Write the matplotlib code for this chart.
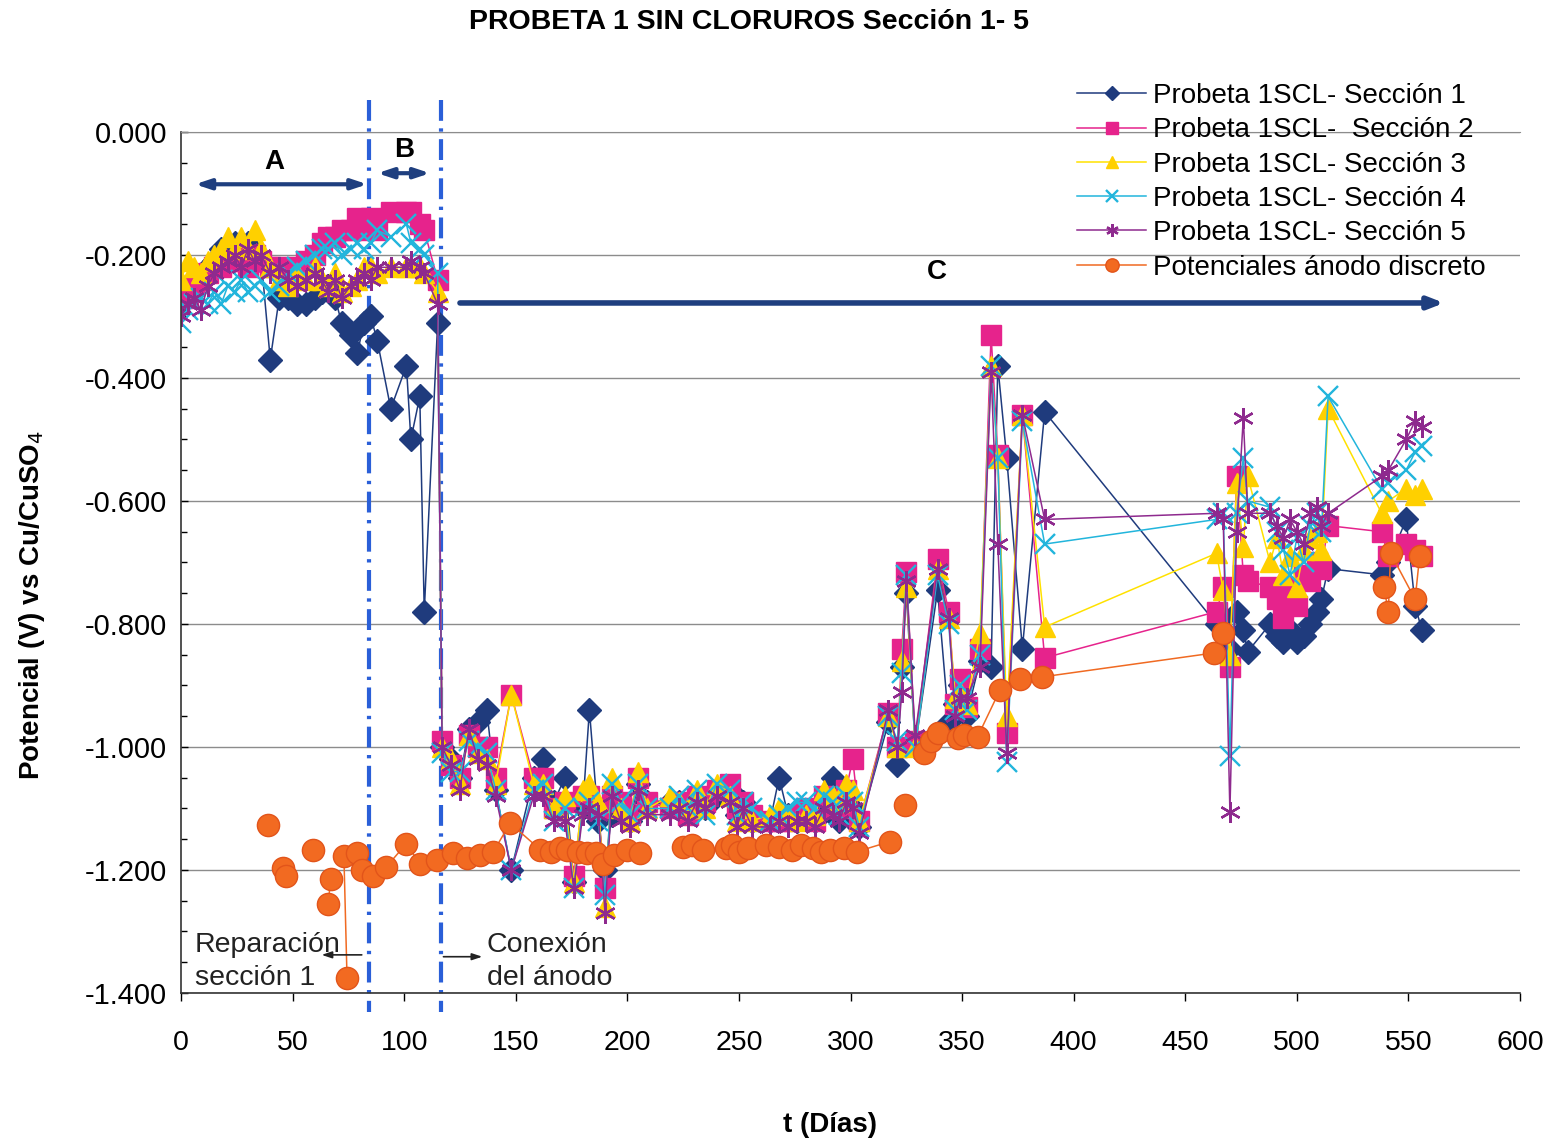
import numpy as np
import matplotlib
matplotlib.use("Agg")
import matplotlib.pyplot as plt
from matplotlib.ticker import MultipleLocator, FormatStrFormatter

plt.rcParams['font.family'] = ['Liberation Sans', 'DejaVu Sans']
plt.rcParams['axes.unicode_minus'] = False

nan = np.nan

# measurement days shared by the five sections
dias = [
    0, 3, 6, 9, 12, 15, 18, 21, 24, 27, 30, 33, 36, 40, 44, 48, 52, 56, 60, 63, 66, 69, 72, 76, 79, 82,
    85, 88, 94, 101, 103, 107, 109, 115,
    117, 121, 125, 129, 133, 137, 141, 148, 158, 162, 167, 172, 176, 180, 183, 187, 190, 193, 197, 201, 205, 209,
    219, 223, 227, 231, 235, 240, 246, 249, 252, 256, 264, 268, 272, 276, 280, 284, 288, 292, 295, 298, 301, 304,
    317, 321, 323, 325, 329, 339, 344, 347, 349, 352, 358, 363, 366, 370, 377, 387,
    464, 467, 470, 473, 476, 478,
    488, 491, 494, 497, 500, 503, 506, 509, 511, 514,
    538, 541, 549, 553, 556,
]

seccion1 = [
    -0.28, -0.26, -0.25, -0.24, -0.22, -0.21, -0.19, -0.20, -0.18, -0.19, -0.18, -0.20, -0.21, -0.37, -0.27, -0.27,
    -0.28, -0.28, -0.27, -0.26, -0.25, -0.27, -0.31, -0.33, -0.36, -0.31,
    -0.30, -0.34, -0.45, -0.38, -0.50, -0.43, -0.78, -0.31,
    -1.00, -1.02, -1.05, -0.97, -0.96, -0.94, -1.07, -1.20, -1.05, -1.02, -1.09, -1.05, -1.22, -1.10, -0.94, -1.12,
    -1.20, -1.11, -1.10, -1.12, -1.06, -1.09,
    -1.09, -1.09, -1.10, -1.08, -1.10, -1.08, -1.07, -1.11, -1.09, -1.12, -1.12, -1.05, -1.11, -1.12, -1.11, -1.12,
    -1.09, -1.05, -1.12, -1.08, -1.10, -1.13,
    -0.96, -1.03, -0.87, -0.75, -1.00, -0.745, -0.96, -0.93, -0.90, -0.95, -0.86, -0.87, -0.38, -0.53, -0.84, -0.455,
    -0.80, -0.79, -0.84, -0.78, -0.81, -0.845,
    -0.80, -0.82, -0.83, -0.81, -0.83, -0.82, -0.80, -0.78, -0.76, -0.71,
    -0.72, -0.70, -0.63, -0.77, -0.81,
]

seccion2 = [
    -0.27, -0.27, -0.25, -0.24, -0.23, -0.22, -0.22, -0.21, -0.21, -0.20, -0.22, -0.20, -0.21, -0.22, -0.22, -0.24,
    -0.22, -0.21, -0.20, -0.18, -0.17, -0.17, -0.16, -0.16, -0.14, -0.16,
    -0.14, -0.16, -0.13, -0.13, -0.13, -0.15, -0.16, -0.24,
    -0.99, -1.03, -1.05, -0.98, -1.00, -1.00, -1.05, -0.915, -1.05, -1.05, -1.10, -1.09, -1.21, -1.08, -1.08, -1.10,
    -1.23, -1.08, -1.09, -1.11, -1.05, -1.09,
    -1.10, -1.09, -1.11, -1.08, -1.09, -1.07, -1.06, -1.10, -1.09, -1.11, -1.12, -1.12, -1.12, -1.11, -1.10, -1.12,
    -1.08, -1.10, -1.10, -1.07, -1.02, -1.12,
    -0.945, -1.00, -0.84, -0.715, -0.99, -0.695, -0.78, -0.93, -0.89, -0.935, -0.84, -0.33, -0.525, -0.977, -0.46, -0.855,
    -0.78, -0.74, -0.87, -0.56, -0.72, -0.73,
    -0.74, -0.76, -0.79, -0.74, -0.77, -0.72, -0.73, -0.70, -0.71, -0.64,
    -0.65, -0.69, -0.67, -0.68, -0.69,
]

seccion3 = [
    -0.24, -0.21, -0.22, -0.23, -0.21, -0.20, -0.19, -0.17, -0.19, -0.17, -0.19, -0.16, -0.19, -0.22, -0.24, -0.25,
    -0.23, -0.24, -0.22, -0.24, -0.25, -0.23, -0.26, -0.25, -0.24, -0.22,
    -0.22, -0.23, -0.22, -0.22, -0.22, -0.22, -0.23, -0.26,
    -1.00, -1.02, -1.06, -0.98, -1.01, -1.02, -1.06, -0.915, -1.06, -1.06, -1.10, -1.08, -1.22, -1.07, -1.06, -1.09,
    -1.26, -1.05, -1.10, -1.12, -1.04, -1.10,
    -1.08, -1.09, -1.10, -1.07, -1.10, -1.06, -1.08, -1.12, -1.10, -1.12, -1.11, -1.10, -1.11, -1.12, -1.11, -1.11,
    -1.07, -1.08, -1.09, -1.06, -1.07, -1.12,
    -0.95, -1.00, -0.86, -0.74, -1.00, -0.71, -0.79, -0.92, -0.91, -0.93, -0.815, -0.38, -0.53, -0.95, -0.46, -0.805,
    -0.685, -0.745, -0.85, -0.57, -0.675, -0.56,
    -0.70, -0.66, -0.72, -0.69, -0.74, -0.68, -0.66, -0.65, -0.68, -0.45,
    -0.62, -0.60, -0.58, -0.59, -0.58,
]

seccion4 = [
    -0.31, -0.29, -0.28, -0.27, -0.28, -0.26, -0.28, -0.25, -0.26, -0.24, -0.26, -0.25, -0.24, -0.26, -0.25, -0.23,
    -0.22, -0.21, -0.20, -0.19, -0.19, -0.18, -0.20, -0.19, -0.18, -0.19,
    -0.18, -0.16, -0.17, -0.15, -0.18, -0.19, -0.20, -0.23,
    -1.01, -1.04, -1.04, -0.99, -1.00, -1.01, -1.07, -1.20, -1.07, -1.06, -1.12, -1.10, -1.23, -1.10, -1.09, -1.12,
    -1.24, -1.06, -1.09, -1.11, -1.06, -1.10,
    -1.10, -1.08, -1.10, -1.07, -1.11, -1.06, -1.07, -1.11, -1.09, -1.10, -1.12, -1.11, -1.10, -1.09, -1.09, -1.10,
    -1.08, -1.09, -1.11, -1.08, -1.09, -1.13,
    -0.95, -0.99, -0.88, -0.72, -1.00, -0.72, -0.80, -0.94, -0.90, -0.94, -0.85, -0.38, -0.53, -1.025, -0.47, -0.67,
    -0.63, -0.62, -1.015, -0.62, -0.53, -0.60,
    -0.61, -0.65, -0.68, -0.72, -0.66, -0.70, -0.64, -0.62, -0.65, -0.43,
    -0.58, -0.57, -0.55, -0.52, -0.51,
]

seccion5 = [
    -0.30, -0.28, -0.27, -0.29, -0.25, -0.23, -0.22, -0.21, -0.20, -0.22, -0.19, -0.21, -0.20, -0.23, -0.22, -0.24,
    -0.25, -0.24, -0.23, -0.24, -0.26, -0.24, -0.27, -0.25, -0.24, -0.23,
    -0.24, -0.22, -0.22, -0.22, -0.21, -0.22, -0.23, -0.28,
    -1.00, -1.03, -1.07, -0.97, -1.02, -1.03, -1.08, -1.20, -1.08, -1.08, -1.12, -1.12, -1.23, -1.11, -1.10, -1.11,
    -1.27, -1.08, -1.12, -1.13, -1.07, -1.11,
    -1.11, -1.10, -1.12, -1.09, -1.10, -1.08, -1.09, -1.13, -1.10, -1.13, -1.13, -1.12, -1.13, -1.12, -1.12, -1.13,
    -1.10, -1.11, -1.12, -1.09, -1.10, -1.14,
    -0.94, -1.00, -0.91, -0.73, -0.98, -0.71, -0.79, -0.95, -0.92, -0.92, -0.87, -0.39, -0.67, -1.01, -0.46, -0.63,
    -0.62, -0.63, -1.105, -0.65, -0.465, -0.62,
    -0.62, -0.64, -0.66, -0.63, -0.65, -0.67, -0.62, -0.61, -0.64, -0.62,
    -0.56, -0.55, -0.50, -0.47, -0.48,
]

# discrete anode readings (nan = no connecting line)
anodo_dias = [
    39, nan, 45.5, 47, nan, 59, nan, 66, 67, nan, 74.4, 73, 79, 81, 86, 92, 101, 107, 114.6, 122, 128, 134, 140,
    147.5, 161, 166, 170, 173, 178, 182, 186, 189, 194, 200, 205.7, nan, 225, 229, 234, 244, 247, 250, 254, 262,
    268, 274, 278, 283, 287, 291, 297, 303, 317.5, nan, 324.4, nan, 333, 336, 339, 348, 351, 357, 367, 376, 386,
    463, 467, nan, 539, 541, 542, 553, 555,
]
anodo_pot = [
    -1.127, nan, -1.197, -1.21, nan, -1.168, nan, -1.255, -1.215, nan, -1.376, -1.178, -1.173, -1.20, -1.21, -1.195,
    -1.157, -1.19, -1.184, -1.173, -1.18, -1.175, -1.17, -1.124, -1.167, -1.17, -1.165, -1.167, -1.17, -1.172,
    -1.173, -1.19, -1.175, -1.167, -1.173, nan, -1.162, -1.16, -1.167, -1.165, -1.16, -1.17, -1.165, -1.16, -1.163,
    -1.168, -1.16, -1.165, -1.17, -1.168, -1.165, -1.17, -1.154, nan, -1.094, nan, -1.01, -0.99, -0.977, -0.985,
    -0.98, -0.983, -0.907, -0.89, -0.886, -0.847, -0.815, nan, -0.74, -0.78, -0.685, -0.76, -0.69,
]

etiquetas = [
    "Probeta 1SCL- Sección 1",
    "Probeta 1SCL-  Sección 2",
    "Probeta 1SCL- Sección 3",
    "Probeta 1SCL- Sección 4",
    "Probeta 1SCL- Sección 5",
    "Potenciales ánodo discreto",
]

# phase limits (days)
fin_reparacion = 84.2
conexion_anodo = 116.5

fig = plt.figure(figsize=(15.57, 11.48), dpi=100)
ax = fig.add_axes([0.11625, 0.13502, 0.86, 0.75])

estilos = [
    (seccion1, '#1f3b7d', '#1f3b7d', 'D', 12.5),
    (seccion2, '#e6238c', '#e6238c', 's', 14.5),
    (seccion3, '#ffe100', '#ffd000', '^', 15),
    (seccion4, '#22b5dc', '#22b5dc', 'x', 14),
    (seccion5, '#8e2a8e', '#8e2a8e', (6, 2, 0), 15),
]
for (vals, lc, mc, mk, ms), lab in zip(estilos, etiquetas):
    ax.plot(dias, vals, color=lc, lw=1.1, marker=mk, ms=ms, mfc=mc, mec=mc,
            mew=1.7 if mk in ('x', (6, 2, 0)) else 1.0, label=lab)
ax.plot(anodo_dias, anodo_pot, color='#f06a22', lw=1.1, marker='o', ms=16,
        mfc='#f26a21', mec='#e2541a', mew=1.0, label=etiquetas[5])

ax.set_xlim(0, 600)
ax.set_ylim(-1.4, 0.0)
ax.xaxis.set_major_locator(MultipleLocator(50))
ax.yaxis.set_major_locator(MultipleLocator(0.2))
ax.yaxis.set_minor_locator(MultipleLocator(0.05))
ax.yaxis.set_major_formatter(FormatStrFormatter('%.3f'))
ax.tick_params(axis='x', direction='out', length=6, width=1, pad=21, labelsize=20.5)
ax.tick_params(axis='y', which='major', direction='in', length=5, width=1, pad=10, labelsize=21)
ax.tick_params(axis='y', which='minor', direction='in', length=4, width=1)
ax.yaxis.grid(True, color='#8c8c8c', lw=1.0)
ax.set_axisbelow(True)
ax.spines['right'].set_visible(False)
ax.spines['top'].set_color('#8c8c8c')
for s in ('left', 'bottom'):
    ax.spines[s].set_color('#333333')
    ax.spines[s].set_linewidth(1.2)

# phase boundaries
for xv in (fin_reparacion, conexion_anodo):
    ax.plot([xv, xv], [0.052, -1.431], color='#2a5fd8', lw=3,
            dashes=(5, 1.8, 0.8, 1.8), clip_on=False, zorder=1)

flecha = '#1f3f7f'
ax.annotate('', xy=(6.3, -0.085), xytext=(83.5, -0.085),
            arrowprops=dict(arrowstyle='<|-|>,head_length=0.9,head_width=0.3', color=flecha, lw=3,
                            shrinkA=0, shrinkB=0))
ax.annotate('', xy=(88, -0.067), xytext=(111.6, -0.067),
            arrowprops=dict(arrowstyle='<|-|>,head_length=0.9,head_width=0.3', color=flecha, lw=3,
                            shrinkA=0, shrinkB=0))
ax.annotate('', xy=(566, -0.278), xytext=(125, -0.278),
            arrowprops=dict(arrowstyle='-|>,head_length=0.9,head_width=0.35', color=flecha, lw=4,
                            shrinkA=0, shrinkB=0))
ax.text(42, -0.049, 'A', fontsize=20, fontweight='bold', ha='center', va='center')
ax.text(100, -0.029, 'B', fontsize=20, fontweight='bold', ha='center', va='center')
ax.text(338.8, -0.228, 'C', fontsize=20, fontweight='bold', ha='center', va='center')

ax.text(6.3, -1.348, 'Reparación\nsección 1', fontsize=20.5, ha='left', va='center', linespacing=1.35,
        color='#222222')
ax.annotate('', xy=(63, -1.338), xytext=(81, -1.338),
            arrowprops=dict(arrowstyle='-|>,head_length=0.6,head_width=0.2', color='#222222', lw=1.2,
                            shrinkA=0, shrinkB=0))
ax.text(137.1, -1.348, 'Conexión\ndel ánodo', fontsize=20.5, ha='left', va='center', linespacing=1.35,
        color='#222222')
ax.annotate('', xy=(135, -1.341), xytext=(117.6, -1.341),
            arrowprops=dict(arrowstyle='-|>,head_length=0.6,head_width=0.2', color='#222222', lw=1.2,
                            shrinkA=0, shrinkB=0))

ax.set_ylabel('Potencial (V) vs Cu/CuSO$_4$', fontsize=20, fontweight='bold')
ax.yaxis.set_label_coords(-0.100, 0.45)
fig.text(0.533, 0.02, 't (Días)', fontsize=20, fontweight='bold', ha='center', va='center')
fig.text(0.481, 1 - 22 / 1148, 'PROBETA 1 SIN CLORUROS Sección 1- 5', fontsize=20.5,
         fontweight='bold', ha='center', va='center')

fig.legend(loc='upper left', bbox_to_anchor=(1063 / 1557, 1 - 69 / 1148), frameon=False,
           fontsize=20, labelspacing=0.3, handlelength=2.5, handletextpad=0.25,
           borderpad=0, markerscale=0.6)

fig.savefig('out.png', dpi=100)
